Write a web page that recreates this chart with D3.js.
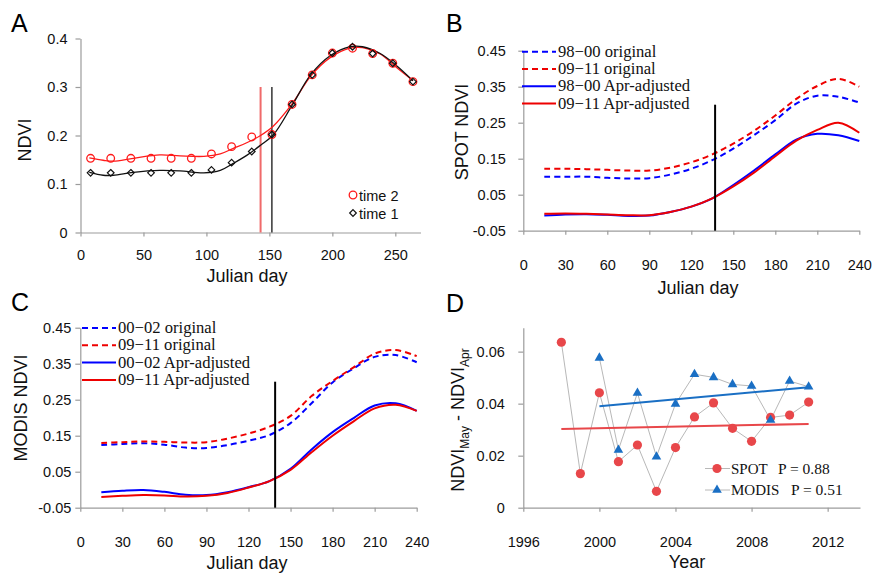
<!DOCTYPE html>
<html>
<head>
<meta charset="utf-8">
<script src="https://d3js.org/d3.v7.min.js"></script>
<style>
  body { margin: 0; background: #fff; }
  svg { font-family: "Liberation Sans", Arial, sans-serif; }
  .axis path, .axis line { stroke: #9c9c9c; stroke-width: 1.2; }
  .axis text { font-size: 14.5px; fill: #111; font-family: "Liberation Sans", Arial, sans-serif; }
  .title { font-size: 18px; fill: #111; }
  .plabel { font-size: 25px; fill: #000; }
  .leg { font-family: "Liberation Serif", "Times New Roman", serif; font-size: 16.6px; fill: #111; }
  .legA { font-size: 14.5px; fill: #111; }
</style>
</head>
<body>
<script>

// ---- panel A: one pixel, two years
var aObsDays = [8, 24, 40, 56, 72, 88, 104, 120, 136, 152, 168, 184, 200, 216, 232, 248, 264];
var aTime2 = [0.153, 0.153, 0.153, 0.153, 0.153, 0.153, 0.162, 0.177, 0.197, 0.202, 0.264, 0.325, 0.370, 0.380, 0.369, 0.349, 0.311];
var aTime1 = [0.123, 0.123, 0.123, 0.123, 0.123, 0.123, 0.129, 0.144, 0.167, 0.202, 0.264, 0.325, 0.370, 0.383, 0.369, 0.349, 0.311];
var aFitDays = [7, 18, 26, 42, 63, 79, 98, 111, 121, 132, 143, 153, 168, 183, 198, 214, 224, 238, 251, 264];
var aFit2 = [0.154, 0.149, 0.147, 0.153, 0.160, 0.158, 0.157, 0.162, 0.173, 0.185, 0.200, 0.219, 0.265, 0.323, 0.360, 0.380, 0.381, 0.368, 0.340, 0.313];
var aFit1 = [0.124, 0.118, 0.118, 0.124, 0.128, 0.127, 0.123, 0.128, 0.142, 0.159, 0.180, 0.201, 0.262, 0.326, 0.364, 0.383, 0.383, 0.369, 0.344, 0.313];
var aMarkTime2 = 143, aMarkTime1 = 152;

// ---- panels B and C: mean curves
var dayGrid = [15, 30, 45, 60, 75, 90, 105, 120, 135, 150, 165, 180, 195, 210, 225, 240];
var spotOrig9800 = [0.100, 0.100, 0.100, 0.097, 0.095, 0.096, 0.106, 0.122, 0.146, 0.178, 0.216, 0.257, 0.303, 0.325, 0.322, 0.306];
var spotOrig0911 = [0.122, 0.122, 0.121, 0.119, 0.117, 0.117, 0.125, 0.140, 0.162, 0.192, 0.228, 0.270, 0.316, 0.352, 0.372, 0.350];
var spotAdj9800 = [-0.008, -0.005, -0.004, -0.006, -0.009, -0.008, 0.002, 0.017, 0.040, 0.077, 0.118, 0.162, 0.203, 0.219, 0.215, 0.199];
var spotAdj0911 = [-0.003, -0.002, -0.003, -0.005, -0.007, -0.007, 0.002, 0.017, 0.040, 0.073, 0.112, 0.157, 0.200, 0.230, 0.250, 0.222];
var spotMark = 137;

var modisOrig0002 = [0.124, 0.127, 0.129, 0.125, 0.117, 0.116, 0.124, 0.136, 0.152, 0.185, 0.240, 0.298, 0.337, 0.369, 0.374, 0.354];
var modisOrig0911 = [0.130, 0.132, 0.134, 0.133, 0.131, 0.132, 0.142, 0.156, 0.175, 0.205, 0.260, 0.302, 0.340, 0.378, 0.388, 0.371];
var modisAdj0002 = [-0.007, -0.003, -0.001, -0.006, -0.014, -0.015, -0.007, 0.007, 0.024, 0.058, 0.112, 0.160, 0.199, 0.234, 0.240, 0.219];
var modisAdj0911 = [-0.020, -0.017, -0.015, -0.016, -0.019, -0.017, -0.009, 0.006, 0.024, 0.055, 0.104, 0.150, 0.190, 0.226, 0.236, 0.219];
var modisMark = 139;

// ---- panel D: May minus Apr difference by year
var spotYears = [1998, 1999, 2000, 2001, 2002, 2003, 2004, 2005, 2006, 2007, 2008, 2009, 2010, 2011];
var spotDiff = [0.0636, 0.0131, 0.0442, 0.0177, 0.0241, 0.0063, 0.0231, 0.0349, 0.0403, 0.0305, 0.0255, 0.0347, 0.0356, 0.0406];
var modisYears = [2000, 2001, 2002, 2003, 2004, 2005, 2006, 2007, 2008, 2009, 2010, 2011];
var modisDiff = [0.0576, 0.0222, 0.0441, 0.0196, 0.0399, 0.0513, 0.0501, 0.0474, 0.0468, 0.0337, 0.0487, 0.0465];
var spotTrend = [0.0303, 0.0322];
var modisTrend = [0.0390, 0.0463];

var blue = "#0000ff", red = "#ee0000";
var dRed = "#e8474a", dBlue = "#1a6fc4";

var svg = d3.select("body").append("svg")
    .attr("width", 873)
    .attr("height", 574);

function axes(x, y, xTicks, yTicks, xFmt, yFmt, xPad, yPad) {
  svg.append("g")
      .attr("class", "axis")
      .attr("transform", "translate(0," + y.range()[0] + ")")
      .call(d3.axisBottom(x).tickValues(xTicks).tickFormat(xFmt)
        .tickSize(4).tickSizeOuter(0).tickPadding(xPad));
  svg.append("g")
      .attr("class", "axis")
      .attr("transform", "translate(" + x.range()[0] + ",0)")
      .call(d3.axisLeft(y).tickValues(yTicks).tickFormat(yFmt)
        .tickSize(5).tickSizeOuter(0).tickPadding(yPad));
}

function title(txt, cx, cy, rot) {
  svg.append("text")
      .attr("class", "title")
      .attr("text-anchor", "middle")
      .attr("dy", "0.35em")
      .attr("transform", "translate(" + cx + "," + cy + ")" + (rot ? " rotate(-90)" : ""))
      .text(txt);
}

function plabel(txt, x, y) {
  svg.append("text").attr("class", "plabel").attr("x", x).attr("y", y).text(txt);
}

function curve(x, y, days, vals, color, dashed, width) {
  var line = d3.line()
      .x(function(d) { return x(d[0]); })
      .y(function(d) { return y(d[1]); })
      .curve(d3.curveCatmullRom.alpha(0.5));
  svg.append("path")
      .datum(d3.zip(days, vals))
      .attr("fill", "none")
      .attr("stroke", color)
      .attr("stroke-width", width)
      .attr("stroke-dasharray", dashed ? "6,4" : null)
      .attr("d", line);
}

function fmtFixed(n) { return function(d) { return d === 0 ? "0" : d.toFixed(n); }; }

// ================= A =================
var xA = d3.scaleLinear().domain([0, 270]).range([80.5, 420.5]);
var yA = d3.scaleLinear().domain([0, 0.4]).range([232.5, 38.5]);
axes(xA, yA, [0, 50, 100, 150, 200, 250], [0, 0.1, 0.2, 0.3, 0.4],
     function(d) { return d; }, fmtFixed(1), 13.5, 8);

svg.append("line")
    .attr("x1", xA(aMarkTime2)).attr("x2", xA(aMarkTime2))
    .attr("y1", yA(0)).attr("y2", yA(0.3))
    .attr("stroke", "#f06a6a").attr("stroke-width", 2);
svg.append("line")
    .attr("x1", xA(aMarkTime1)).attr("x2", xA(aMarkTime1))
    .attr("y1", yA(0)).attr("y2", yA(0.3))
    .attr("stroke", "#000").attr("stroke-width", 1.2);

curve(xA, yA, aFitDays, aFit2, "#ff1a1a", false, 1.3);
curve(xA, yA, aFitDays, aFit1, "#111", false, 1.3);

svg.selectAll(".t2")
    .data(d3.zip(aObsDays, aTime2))
  .enter().append("circle")
    .attr("cx", function(d) { return xA(d[0]); })
    .attr("cy", function(d) { return yA(d[1]); })
    .attr("r", 3.8)
    .attr("fill", "none")
    .attr("stroke", "#ff1a1a")
    .attr("stroke-width", 1.3);

var diamond = d3.symbol().type(d3.symbolDiamond2).size(28);
svg.selectAll(".t1")
    .data(d3.zip(aObsDays, aTime1))
  .enter().append("path")
    .attr("transform", function(d) { return "translate(" + xA(d[0]) + "," + yA(d[1]) + ")"; })
    .attr("d", diamond)
    .attr("fill", "none")
    .attr("stroke", "#111")
    .attr("stroke-width", 1.2);

svg.append("circle").attr("cx", 353).attr("cy", 195).attr("r", 3.8)
    .attr("fill", "none").attr("stroke", "#ff1a1a").attr("stroke-width", 1.3);
svg.append("text").attr("class", "legA").attr("x", 359).attr("y", 200.5).text("time 2");
svg.append("path").attr("transform", "translate(353,213)").attr("d", diamond)
    .attr("fill", "none").attr("stroke", "#111").attr("stroke-width", 1.2);
svg.append("text").attr("class", "legA").attr("x", 359).attr("y", 218.5).text("time 1");

title("Julian day", 247, 276, false);
title("NDVI", 25, 140, true);
plabel("A", 11, 32);

// ================= B =================
var xB = d3.scaleLinear().domain([0, 240]).range([523.3, 859.3]);
var yB = d3.scaleLinear().domain([-0.05, 0.45]).range([230.7, 50.7]);
var nTicks = [-0.05, 0.05, 0.15, 0.25, 0.35, 0.45];
var dTicks = [0, 30, 60, 90, 120, 150, 180, 210, 240];
axes(xB, yB, dTicks, nTicks, function(d) { return d; }, fmtFixed(2), 24.8, 12.5);

curve(xB, yB, dayGrid, spotOrig9800, blue, true, 2);
curve(xB, yB, dayGrid, spotOrig0911, red, true, 2);
curve(xB, yB, dayGrid, spotAdj9800, blue, false, 2);
curve(xB, yB, dayGrid, spotAdj0911, red, false, 2);

svg.append("line")
    .attr("x1", xB(spotMark)).attr("x2", xB(spotMark))
    .attr("y1", yB(-0.05)).attr("y2", yB(0.30))
    .attr("stroke", "#000").attr("stroke-width", 2);

function legendCFB(x0, y0, names) {
  var styles = [[blue, true], [red, true], [blue, false], [red, false]];
  names.forEach(function(n, i) {
    var yy = y0 + i * 17.3;
    svg.append("line")
        .attr("x1", x0).attr("x2", x0 + 34)
        .attr("y1", yy).attr("y2", yy)
        .attr("stroke", styles[i][0]).attr("stroke-width", 2)
        .attr("stroke-dasharray", styles[i][1] ? "6,4" : null);
    svg.append("text").attr("class", "leg")
        .attr("x", x0 + 36).attr("y", yy + 5)
        .text(n);
  });
}
legendCFB(522, 51.7, ["98\u221200 original", "09\u221211 original", "98\u221200 Apr-adjusted", "09\u221211 Apr-adjusted"]);

title("Julian day", 698, 288, false);
title("SPOT NDVI", 462, 132, true);
plabel("B", 446, 32);

// ================= C =================
var xC = d3.scaleLinear().domain([0, 240]).range([80.3, 416.7]);
var yC = d3.scaleLinear().domain([-0.05, 0.45]).range([507.7, 327.7]);
axes(xC, yC, dTicks, nTicks, function(d) { return d; }, fmtFixed(2), 24.6, 4);

curve(xC, yC, dayGrid, modisOrig0002, blue, true, 2);
curve(xC, yC, dayGrid, modisOrig0911, red, true, 2);
curve(xC, yC, dayGrid, modisAdj0002, blue, false, 2);
curve(xC, yC, dayGrid, modisAdj0911, red, false, 2);

svg.append("line")
    .attr("x1", xC(modisMark)).attr("x2", xC(modisMark))
    .attr("y1", yC(-0.05)).attr("y2", yC(0.30))
    .attr("stroke", "#000").attr("stroke-width", 2);

legendCFB(82, 328, ["00\u221202 original", "09\u221211 original", "00\u221202 Apr-adjusted", "09\u221211 Apr-adjusted"]);

title("Julian day", 247, 563, false);
title("MODIS NDVI", 21, 408, true);
plabel("C", 11, 311);

// ================= D =================
var xD = d3.scaleLinear().domain([1996, 2013.7]).range([523.3, 860]);
var yD = d3.scaleLinear().domain([0, 0.0692]).range([507.7, 327.7]);
axes(xD, yD, [1996, 2000, 2004, 2008, 2012], [0, 0.02, 0.04, 0.06],
     function(d) { return d; }, fmtFixed(2), 24.8, 13.5);

var link = d3.line()
    .x(function(d) { return xD(d[0]); })
    .y(function(d) { return yD(d[1]); });

svg.append("path").datum(d3.zip(spotYears, spotDiff))
    .attr("fill", "none").attr("stroke", "#b8b8b8").attr("stroke-width", 1).attr("d", link);
svg.append("path").datum(d3.zip(modisYears, modisDiff))
    .attr("fill", "none").attr("stroke", "#b8b8b8").attr("stroke-width", 1).attr("d", link);

svg.append("path")
    .datum([[spotYears[0], spotTrend[0]], [spotYears[spotYears.length - 1], spotTrend[1]]])
    .attr("fill", "none").attr("stroke", dRed).attr("stroke-width", 2).attr("d", link);
svg.append("path")
    .datum([[modisYears[0], modisTrend[0]], [modisYears[modisYears.length - 1], modisTrend[1]]])
    .attr("fill", "none").attr("stroke", dBlue).attr("stroke-width", 2).attr("d", link);

svg.selectAll(".spot")
    .data(d3.zip(spotYears, spotDiff))
  .enter().append("circle")
    .attr("cx", function(d) { return xD(d[0]); })
    .attr("cy", function(d) { return yD(d[1]); })
    .attr("r", 4.6)
    .attr("fill", dRed);

var tri = d3.symbol().type(d3.symbolTriangle).size(40);
svg.selectAll(".modis")
    .data(d3.zip(modisYears, modisDiff))
  .enter().append("path")
    .attr("transform", function(d) { return "translate(" + xD(d[0]) + "," + yD(d[1]) + ")"; })
    .attr("d", tri)
    .attr("fill", dBlue);

// legend D
[["SPOT", "P = 0.88", 778], ["MODIS", "P = 0.51", 791]].forEach(function(r, i) {
  var yy = 468.5 + i * 21.5;
  svg.append("line").attr("x1", 705).attr("x2", 730).attr("y1", yy).attr("y2", yy)
      .attr("stroke", "#b8b8b8").attr("stroke-width", 1);
  if (i === 0) {
    svg.append("circle").attr("cx", 717).attr("cy", yy).attr("r", 4.6).attr("fill", dRed);
  } else {
    svg.append("path").attr("transform", "translate(717," + yy + ")").attr("d", tri).attr("fill", dBlue);
  }
  svg.append("text").attr("class", "leg").style("font-size", "15px")
      .attr("x", 731).attr("y", yy + 5).text(r[0]);
  svg.append("text").attr("class", "leg").style("font-size", "15.5px")
      .attr("x", r[2]).attr("y", yy + 5).text(r[1]);
});

var yl = svg.append("text")
    .attr("class", "title")
    .attr("text-anchor", "middle")
    .attr("transform", "translate(464,420) rotate(-90)");
yl.append("tspan").text("NDVI");
yl.append("tspan").attr("font-size", "12px").attr("dy", 5).text("May");
yl.append("tspan").attr("dy", -5).text(" - NDVI");
yl.append("tspan").attr("font-size", "12px").attr("dy", 5).text("Apr");

title("Year", 687, 562, false);
plabel("D", 446, 312);

</script>
</body>
</html>
